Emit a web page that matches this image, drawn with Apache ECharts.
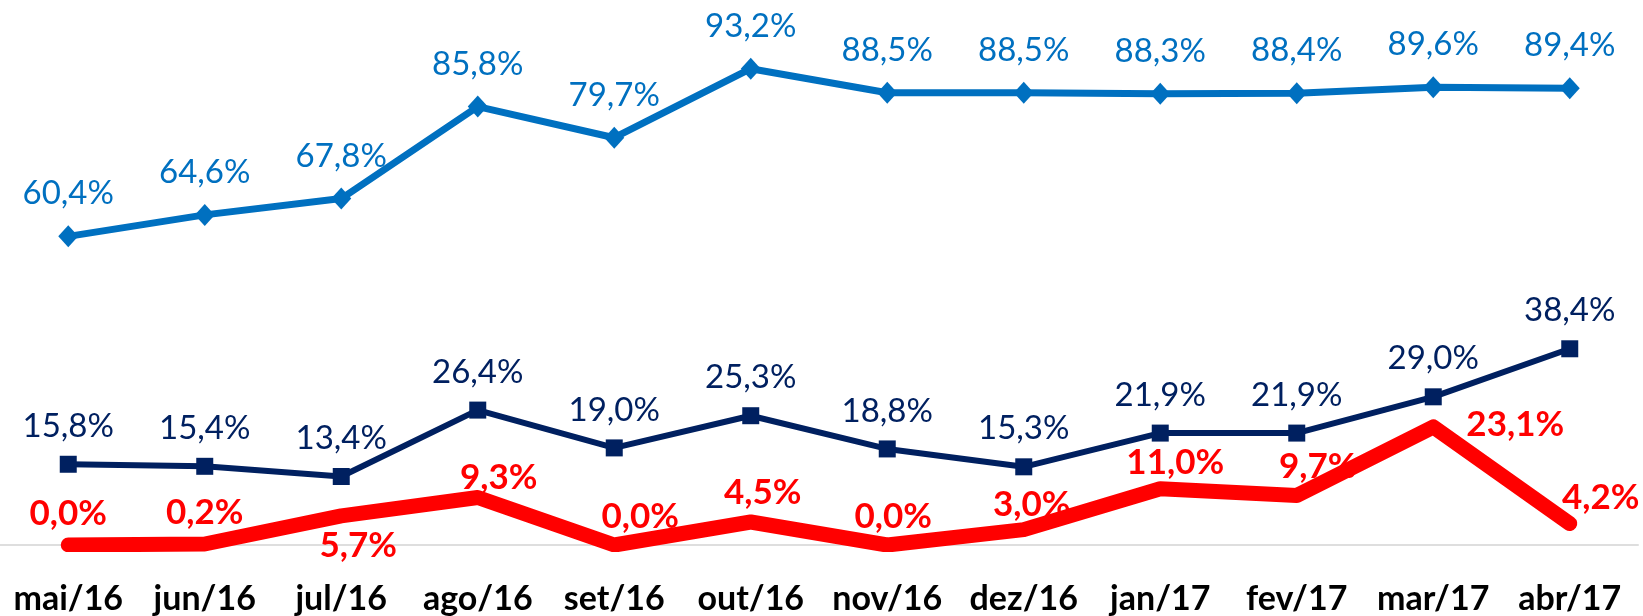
<!DOCTYPE html>
<html>
<head>
<meta charset="utf-8">
<script src="https://cdn.jsdelivr.net/npm/echarts@6/dist/echarts.min.js"></script>
<style>
html, body { margin: 0; padding: 0; background: #fff; overflow: hidden; }
#chart { width: 1643px; height: 616px; display: block; }
</style>
</head>
<body>
<div id="chart"></div>
<script>
const months = ['mai/16', 'jun/16', 'jul/16', 'ago/16', 'set/16', 'out/16', 'nov/16', 'dez/16', 'jan/17', 'fev/17', 'mar/17', 'abr/17']
const blueValues = [60.4, 64.6, 67.8, 85.8, 79.7, 93.2, 88.5, 88.5, 88.3, 88.4, 89.6, 89.4]
const navyValues = [15.8, 15.4, 13.4, 26.4, 19.0, 25.3, 18.8, 15.3, 21.9, 21.9, 29.0, 38.4]
const redValues = [0.0, 0.2, 5.7, 9.3, 0.0, 4.5, 0.0, 3.0, 11.0, 9.7, 23.1, 4.2]

// where each red label sits, relative to its default place above the point
const redLabelShift = [[0, 0], [0, 0], [17, 61], [21, 11], [26, 3], [12, 2], [6, 3], [8, 6], [15, 5], [21, 2], [82, 29], [31, 5]]

const font = 'Lato'
const fmt = p => p.value.toFixed(1).replace('.', ',') + '%'

const myChart = echarts.init(document.getElementById('chart'))

const option = {
  backgroundColor: '#fff',
  animation: false,
  grid: {
    left: -1,
    right: 5,
    top: 34,
    bottom: 66,
    containLabel: false
  },
  xAxis: {
    type: 'category',
    data: months,
    boundaryGap: true,
    axisLine: { show: true, lineStyle: { color: '#dedede', width: 2 } },
    axisTick: { show: false },
    axisLabel: {
      interval: 0,
      color: '#000',
      fontFamily: font,
      fontWeight: 'bold',
      fontSize: 34,
      margin: 37
    }
  },
  yAxis: {
    type: 'value',
    min: 0,
    max: 100,
    show: false,
    splitLine: { show: false }
  },
  // the red line is cut at the axis in the original
  graphic: [
    {
      type: 'rect',
      left: 0,
      top: 552,
      z: 4,
      shape: { width: 1643, height: 12 },
      style: { fill: '#fff' }
    }
  ],
  series: [
    {
      name: 'blue',
      type: 'line',
      data: blueValues,
      symbol: 'diamond',
      symbolSize: [20, 22],
      lineStyle: { color: '#0070C0', width: 7 },
      itemStyle: { color: '#0070C0' },
      label: {
        show: true,
        position: 'top',
        distance: 15,
        color: '#0070C0',
        fontFamily: font,
        fontSize: 33,
        formatter: fmt
      }
    },
    {
      name: 'navy',
      type: 'line',
      data: navyValues,
      symbol: 'rect',
      symbolSize: 17,
      lineStyle: { color: '#002060', width: 6 },
      itemStyle: { color: '#002060' },
      label: {
        show: true,
        position: 'top',
        distance: 13,
        color: '#002060',
        fontFamily: font,
        fontSize: 33,
        formatter: fmt
      }
    },
    {
      name: 'red',
      type: 'line',
      z: 3,
      data: redValues,
      showSymbol: false,
      lineStyle: { color: '#FF0000', width: 15, cap: 'round', join: 'round' },
      itemStyle: { color: '#FF0000' }
    },
    {
      name: 'redLabels',
      type: 'scatter',
      z: 5,
      data: redValues.map((v, i) => ({
        value: v,
        label: { offset: redLabelShift[i] }
      })),
      symbolSize: 1,
      itemStyle: { color: 'rgba(0,0,0,0)', opacity: 1 },
      label: {
        show: true,
        position: 'top',
        distance: 13,
        color: '#FF0000',
        fontFamily: font,
        fontWeight: 'bold',
        fontSize: 35,
        formatter: fmt
      }
    }
  ]
}

myChart.setOption(option)
window.onresize = myChart.resize
</script>
</body>
</html>
